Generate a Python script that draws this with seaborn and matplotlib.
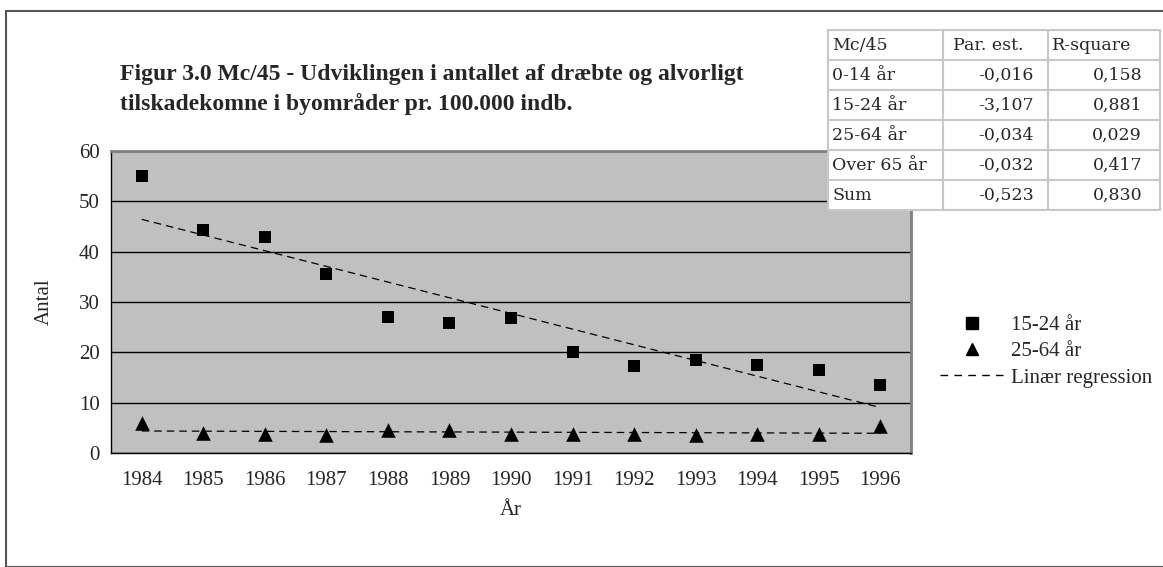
import numpy as np
import pandas as pd
import matplotlib
matplotlib.use("Agg")
import matplotlib.pyplot as plt
from matplotlib.lines import Line2D
from matplotlib.patches import Rectangle
import seaborn as sns

years = [1984, 1985, 1986, 1987, 1988, 1989, 1990, 1991, 1992, 1993, 1994, 1995, 1996]
age_15_24 = [55.0, 44.3, 43.0, 35.5, 27.0, 25.8, 26.8, 20.0, 17.3, 18.4, 17.4, 16.5, 13.5]
age_25_64 = [6.0, 4.0, 3.7, 3.5, 4.5, 4.5, 3.8, 3.7, 3.7, 3.6, 3.8, 3.8, 5.3]
y_ticks = [0, 10, 20, 30, 40, 50, 60]

table_header = ["Mc/45", "Par. est.", "R-square"]
table_rows = ["0-14 år", "15-24 år", "25-64 år", "Over 65 år", "Sum"]
table_par = ["-0,016", "-3,107", "-0,034", "-0,032", "-0,523"]
table_r2 = ["0,158", "0,881", "0,029", "0,417", "0,830"]

title = ("Figur 3.0 Mc/45 - Udviklingen i antallet af dræbte og alvorligt\n"
         "tilskadekomne i byområder pr. 100.000 indb.")

sns.set_theme(style="white")
plt.rcParams["font.family"] = ["Liberation Serif", "DejaVu Serif"]

W, H = 1163, 567
fig = plt.figure(figsize=(W / 100, H / 100), dpi=100)

# outer frame
fig.patches.append(Rectangle((6 / W, 0), 1.2, 1 - 11 / H, transform=fig.transFigure,
                             fill=False, edgecolor="#555555", linewidth=1.5))

ax_l, ax_r, ax_b, ax_t = 111, 911, 453, 151
ax = fig.add_axes([ax_l / W, 1 - ax_b / H, (ax_r - ax_l) / W, (ax_b - ax_t) / H])
ax.set_facecolor("#C0C0C0")

df = pd.DataFrame({"År": years, "a": age_15_24, "b": age_25_64})

for col in ["a", "b"]:
    sns.regplot(data=df, x="År", y=col, ax=ax, scatter=False, ci=None, truncate=True,
                line_kws=dict(color="black", linestyle=(0, (6, 4)), linewidth=0.9))
sns.scatterplot(data=df, x="År", y="a", ax=ax, marker="s", s=85, color="black",
                edgecolor="black", linewidth=0, zorder=5)
sns.scatterplot(data=df, x="År", y="b", ax=ax, marker="^", s=110, color="black",
                edgecolor="black", linewidth=0, zorder=5)

fs = 15
ax.set_xlim(years[0] - 0.5, years[-1] + 0.5)
ax.set_ylim(0, 60)
ax.set_yticks(y_ticks)
ax.set_yticklabels([str(v) for v in y_ticks], fontsize=fs)
ax.set_xticks(years)
ax.set_xticklabels([str(y) for y in years], fontsize=fs)
ax.set_xticks(np.arange(years[0] - 0.5, years[-1] + 1.0, 1.0), minor=True)
ax.tick_params(axis="x", which="major", length=0, pad=13)
ax.tick_params(axis="x", which="minor", length=5, width=1, color="black", direction="out")
ax.tick_params(axis="y", which="major", length=5, width=1, color="black", direction="out", pad=3)
ax.yaxis.grid(True, color="black", linewidth=1)
ax.set_axisbelow(True)
for s in ["left", "bottom"]:
    ax.spines[s].set_color("black")
    ax.spines[s].set_linewidth(1)
for s in ["top", "right"]:
    ax.spines[s].set_color("#808080")
    ax.spines[s].set_linewidth(2)
ax.set_xlabel("År", fontsize=fs, labelpad=8)
ax.set_ylabel("Antal", fontsize=fs, labelpad=18)

# title
fig.text(120 / W, 1 - 64 / H, title, fontsize=17, fontweight="bold", va="top", ha="left",
         linespacing=1.45)

# legend
handles = [
    Line2D([], [], marker="s", color="black", linestyle="none", markersize=8),
    Line2D([], [], marker="^", color="black", linestyle="none", markersize=9),
    Line2D([], [], color="black", linestyle=(0, (5.5, 4.5)), linewidth=1),
]
fig.legend(handles, ["15-24 år", "25-64 år", "Linær regression"], loc="upper left",
           bbox_to_anchor=(930 / W, 1 - 305 / H), frameon=False, fontsize=fs,
           handlelength=3.0, handletextpad=0.4, labelspacing=0.32, borderpad=0)

# table
tab_t, row_h = 30, 30
col_x = [828, 943, 1048, 1160]
tax = fig.add_axes([0, 0, 1, 1], facecolor="none")
tax.set_xlim(0, W)
tax.set_ylim(H, 0)
tax.axis("off")
n_rows = 1 + len(table_rows)
tax.add_patch(Rectangle((col_x[0], tab_t), col_x[-1] - col_x[0], n_rows * row_h,
                        facecolor="white", edgecolor="#C8C8C8", linewidth=1.5, zorder=1))
for i in range(1, n_rows):
    tax.plot([col_x[0], col_x[-1]], [tab_t + i * row_h] * 2, color="#C8C8C8", lw=1.5, zorder=2)
for cx in col_x[1:-1]:
    tax.plot([cx, cx], [tab_t, tab_t + n_rows * row_h], color="#C8C8C8", lw=1.5, zorder=2)
tfam = ["DejaVu Serif"]
tfs = 12.5
hy = tab_t + row_h / 2
tax.text(col_x[0] + 4, hy, table_header[0], fontsize=tfs, family=tfam, va="center", ha="left", zorder=3)
tax.text(col_x[1] + 10, hy, table_header[1], fontsize=tfs, family=tfam, va="center", ha="left", zorder=3)
tax.text(col_x[2] + 4, hy, table_header[2], fontsize=tfs, family=tfam, va="center", ha="left", zorder=3)
for i, (lab, p, r) in enumerate(zip(table_rows, table_par, table_r2)):
    yy = tab_t + (i + 1.5) * row_h
    tax.text(col_x[0] + 4, yy, lab, fontsize=tfs, family=tfam, va="center", ha="left", zorder=3)
    tax.text(col_x[2] - 14, yy, p, fontsize=tfs, family=tfam, va="center", ha="right", zorder=3)
    tax.text(col_x[3] - 18, yy, r, fontsize=tfs, family=tfam, va="center", ha="right", zorder=3)

fig.savefig("out.png", dpi=100)
